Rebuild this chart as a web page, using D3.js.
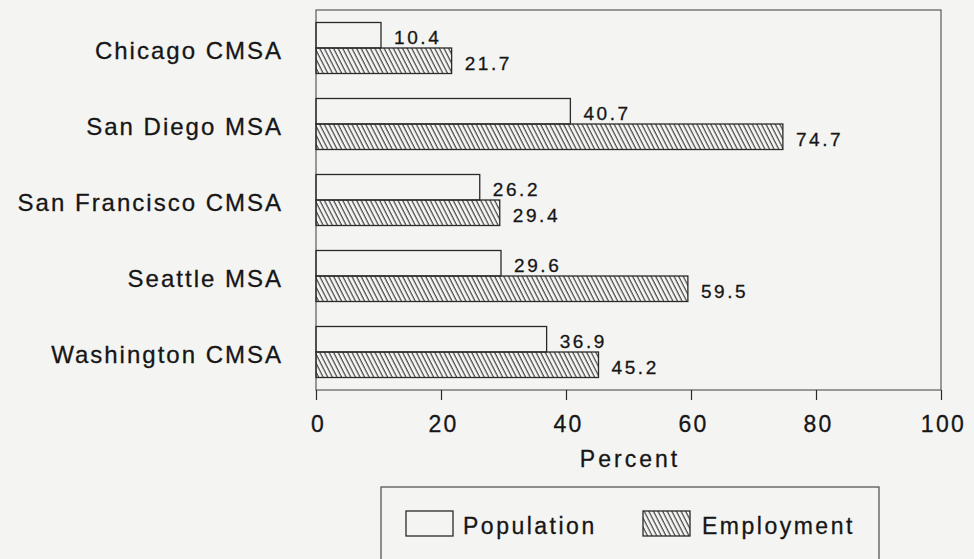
<!DOCTYPE html>
<html>
<head>
<meta charset="utf-8">
<script src="https://cdn.jsdelivr.net/npm/d3@7"></script>
<style>
    html, body { margin: 0; padding: 0; background: #f4f4f3; }
    svg { display: block; }
    text { font-family: "Liberation Sans", Arial, Helvetica, sans-serif; fill: #161616; stroke: #161616; stroke-width: 0.3px; }
</style>
</head>
<body>
<div id="chart"></div>
<script>
var categories = ['Chicago CMSA', 'San Diego MSA', 'San Francisco CMSA', 'Seattle MSA', 'Washington CMSA'],
    seriesNames = ['Population', 'Employment'],
    population = [10.4, 40.7, 26.2, 29.6, 36.9],
    employment = [21.7, 74.7, 29.4, 59.5, 45.2],
    xTicks = [0, 20, 40, 60, 80, 100],
    xTitle = 'Percent';

var W = 974, H = 559,
    ink = '#2a2a2a',
    frame = { left: 316, right: 941, top: 10, bottom: 390 };

function main() {
    var svg = d3.select('#chart').append('svg')
        .attr('width', W)
        .attr('height', H);

    // hatch used for the employment bars, lines run top-left to bottom-right
    svg.append('defs').append('pattern')
        .attr('id', 'hatch')
        .attr('patternUnits', 'userSpaceOnUse')
        .attr('width', 4.1)
        .attr('height', 10)
        .attr('patternTransform', 'rotate(-27)')
        .append('line')
        .attr('x1', 1).attr('y1', 0)
        .attr('x2', 1).attr('y2', 10)
        .attr('stroke', '#333')
        .attr('stroke-width', 1.1);

    var x = d3.scaleLinear().domain([0, 100]).range([frame.left, frame.right]),
        y = d3.scaleBand().domain(categories).range([frame.top, frame.bottom]),
        ySub = d3.scaleBand().domain(seriesNames).range([0, y.bandwidth()]).paddingOuter(0.49);

    var rows = categories.map(function (c, i) {
        return { name: c, values: [population[i], employment[i]] };
    });

    // plot frame
    svg.append('rect')
        .attr('x', frame.left)
        .attr('y', frame.top)
        .attr('width', frame.right - frame.left)
        .attr('height', frame.bottom - frame.top)
        .attr('fill', 'none')
        .attr('stroke', '#5a5a5a')
        .attr('stroke-width', 1.2);

    var g = svg.selectAll('g.row')
        .data(rows)
        .enter().append('g')
        .attr('class', 'row')
        .attr('transform', function (d) { return 'translate(0,' + y(d.name) + ')'; });

    g.selectAll('rect')
        .data(function (d) { return d.values.map(function (v, j) { return { s: seriesNames[j], v: v }; }); })
        .enter().append('rect')
        .attr('x', x(0))
        .attr('y', function (d) { return ySub(d.s); })
        .attr('width', function (d) { return x(d.v) - x(0); })
        .attr('height', ySub.bandwidth())
        .attr('fill', function (d) { return d.s === 'Employment' ? 'url(#hatch)' : 'none'; })
        .attr('stroke', ink)
        .attr('stroke-width', 1.3);

    g.selectAll('text.val')
        .data(function (d) { return d.values.map(function (v, j) { return { s: seriesNames[j], v: v }; }); })
        .enter().append('text')
        .attr('class', 'val')
        .attr('x', function (d) { return x(d.v) + 13; })
        .attr('y', function (d) { return ySub(d.s) + ySub.bandwidth() / 2 + 9; })
        .style('font-size', '19px')
        .style('letter-spacing', '2.6px')
        .text(function (d) { return d.v.toFixed(1); });

    // category labels
    svg.selectAll('text.cat')
        .data(categories)
        .enter().append('text')
        .attr('class', 'cat')
        .attr('x', 283)
        .attr('y', function (d) { return y(d) + y.bandwidth() / 2 + 10.5; })
        .attr('text-anchor', 'end')
        .style('font-size', '24px')
        .style('letter-spacing', '2px')
        .text(function (d) { return d; });

    // x axis
    var axis = svg.append('g')
        .attr('transform', 'translate(0,' + frame.bottom + ')')
        .call(d3.axisBottom(x).tickValues(xTicks).tickSize(10).tickPadding(16).tickFormat(d3.format('d')));
    axis.select('.domain').remove();
    axis.selectAll('line').attr('stroke', ink).attr('stroke-width', 1.2);
    axis.selectAll('text')
        .style('font-size', '23px')
        .style('letter-spacing', '2.3px')
        .style('font-family', '"Liberation Sans", Arial, sans-serif')
        .attr('fill', '#161616')
        .attr('dx', '2px');

    svg.append('text')
        .attr('x', 630)
        .attr('y', 467)
        .attr('text-anchor', 'middle')
        .style('font-size', '23px')
        .style('letter-spacing', '3px')
        .text(xTitle);

    // legend
    var leg = svg.append('g');
    leg.append('rect')
        .attr('x', 381).attr('y', 487)
        .attr('width', 498).attr('height', 100)
        .attr('fill', 'none')
        .attr('stroke', '#4a4a4a')
        .attr('stroke-width', 1.2);
    var items = leg.selectAll('g.item')
        .data(seriesNames)
        .enter().append('g')
        .attr('transform', function (d, i) { return 'translate(' + [406, 643][i] + ',511)'; });
    items.append('rect')
        .attr('width', 47).attr('height', 25)
        .attr('fill', function (d) { return d === 'Employment' ? 'url(#hatch)' : 'none'; })
        .attr('stroke', ink)
        .attr('stroke-width', 1.3);
    items.append('text')
        .attr('x', function (d) { return d === 'Employment' ? 59 : 57; })
        .attr('y', 23)
        .style('font-size', '23px')
        .style('letter-spacing', '2.5px')
        .text(function (d) { return d; });
}

main();
</script>
</body>
</html>
